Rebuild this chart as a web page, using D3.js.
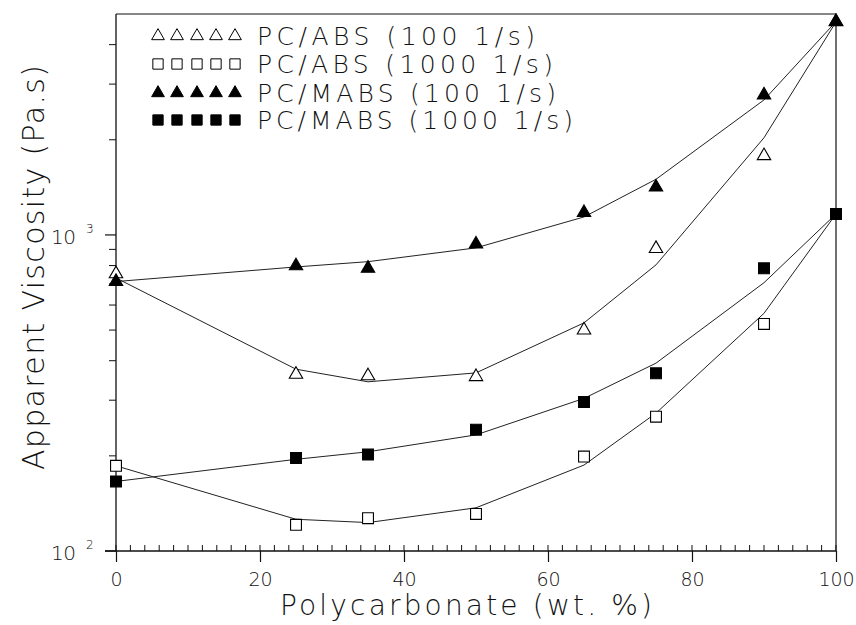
<!DOCTYPE html>
<html><head><meta charset="utf-8">
<script src="https://cdn.jsdelivr.net/npm/d3@7"></script>
<style>
body{margin:0;background:#fff;}
text{font-family:"DejaVu Sans",sans-serif;font-weight:200;fill:#111;}
</style></head>
<body><svg id="chart" width="856" height="625"></svg>
<script>
// ---- data ----
const composition = [0, 25, 35, 50, 65, 75, 90, 100];
const absLowPoints   = [753, 362, 358, 356, 500, 905, 1780, 4720];
const absLowFit      = [731, 376, 343, 366, 527, 804, 2030, 4720];
const absHighPoints  = [186, 121, 127, 131, 199, 266, 523, 1165];
const absHighFit     = [186, 126, 123, 137, 187, 273, 565, 1165];
const mabsLowPoints  = [712, 798, 784, 935, 1176, 1416, 2770, 4730];
const mabsLowFit     = [712, 792, 823, 910, 1140, 1500, 2674, 4730];
const mabsHighPoints = [166, 197, 202, 242, 296, 365, 784, 1165];
const mabsHighFit    = [166, 195, 206, 233, 304, 393, 706, 1165];
const seriesNames = ["PC/ABS (100 1/s)", "PC/ABS (1000 1/s)", "PC/MABS (100 1/s)", "PC/MABS (1000 1/s)"];
const xTicks = [0, 20, 40, 60, 80, 100];
const yDecades = [100, 1000];
const yDecadeExp = ["2", "3"];

const series = [
  {name: seriesNames[0], pts: absLowPoints,  fit: absLowFit,  shape: "tri", filled: false},
  {name: seriesNames[1], pts: absHighPoints, fit: absHighFit, shape: "sq",  filled: false},
  {name: seriesNames[2], pts: mabsLowPoints, fit: mabsLowFit, shape: "tri", filled: true},
  {name: seriesNames[3], pts: mabsHighPoints,fit: mabsHighFit,shape: "sq",  filled: true}
];

const svg = d3.select("#chart");
const L = 116, T = 14, R = 836, B = 551;
const x = d3.scaleLinear().domain([0, 100]).range([L, R]);
const y = d3.scaleLog().domain([100, 5000]).range([B, T]);

const ink = "#111";

// frame
svg.append("line").attr("x1", L).attr("x2", R).attr("y1", T).attr("y2", T).attr("stroke", ink).attr("stroke-width", 1.2);
svg.append("line").attr("x1", R).attr("x2", R).attr("y1", T).attr("y2", B).attr("stroke", ink).attr("stroke-width", 1.2);

// x axis
const xAxis = d3.axisBottom(x).tickValues(xTicks).tickSize(11).tickPadding(6).tickFormat(d3.format("d"));
const gx = svg.append("g").attr("transform", `translate(0,${B})`).call(xAxis);
gx.select(".domain").remove();
gx.selectAll(".tick line").attr("stroke", ink).attr("stroke-width", 1.2);
gx.selectAll(".tick text").attr("font-size", 19).attr("font-family", "DejaVu Sans").attr("font-weight", 200).attr("fill", ink).attr("dy", "0.95em");
svg.append("line").attr("x1", L - 11).attr("x2", R).attr("y1", B).attr("y2", B).attr("stroke", ink).attr("stroke-width", 1.3);
const minorX = d3.range(0, 101, 2);
svg.append("g").selectAll("line").data(minorX).join("line")
  .attr("x1", d => x(d)).attr("x2", d => x(d)).attr("y1", B).attr("y2", B - 6)
  .attr("stroke", ink).attr("stroke-width", 1);

// y axis
svg.append("line").attr("x1", L).attr("x2", L).attr("y1", T).attr("y2", B).attr("stroke", ink).attr("stroke-width", 1.3);
const minorY = [200,300,400,500,600,700,800,900,2000,3000,4000];
svg.append("g").selectAll("line").data(minorY).join("line")
  .attr("x1", L - 7).attr("x2", L).attr("y1", d => y(d)).attr("y2", d => y(d))
  .attr("stroke", ink).attr("stroke-width", 1);
svg.append("g").selectAll("line").data(yDecades).join("line")
  .attr("x1", L - 11).attr("x2", L).attr("y1", d => y(d)).attr("y2", d => y(d))
  .attr("stroke", ink).attr("stroke-width", 1.2);
const yl = svg.append("g").selectAll("text").data(yDecades).join("text")
  .attr("x", 51).attr("y", d => y(d) + 9).attr("font-size", 20);
yl.append("tspan").text("10").attr("textLength", 25);
yl.append("tspan").text((d, i) => yDecadeExp[i]).attr("x", 86).attr("dy", -11).attr("font-size", 12);

// fit lines
const line = d3.line().x((d, i) => x(composition[i])).y(d => y(d));
svg.append("g").selectAll("path").data(series).join("path")
  .attr("d", s => line(s.fit)).attr("fill", "none").attr("stroke", "#222").attr("stroke-width", 1);

// markers
function symPath(shape, scale) {
  return shape === "tri"
    ? d3.symbol(d3.symbolTriangle, 78 * scale)()
    : d3.symbol(d3.symbolSquare, 118 * scale)();
}
series.forEach(s => {
  svg.append("g").selectAll("path").data(s.pts).join("path")
    .attr("transform", (d, i) => `translate(${x(composition[i])},${y(d)})`)
    .attr("d", symPath(s.shape, 1))
    .attr("fill", s.filled ? "#000" : "#fff")
    .attr("stroke", "#000").attr("stroke-width", 1.1);
});

// legend
const legendRowsY = [36, 64, 93, 120];
const legendMarkX = [158, 177, 197, 216, 235];
const legendTextEnd = [535, 553, 556, 573];
series.forEach((s, r) => {
  svg.append("g").selectAll("path").data(legendMarkX).join("path")
    .attr("transform", d => `translate(${d},${legendRowsY[r]})`)
    .attr("d", symPath(s.shape, 0.9))
    .attr("fill", s.filled ? "#000" : "#fff")
    .attr("stroke", "#000").attr("stroke-width", 1);
  svg.append("text").attr("x", 257).attr("y", legendRowsY[r] + 9)
    .attr("font-size", 25).attr("textLength", legendTextEnd[r] - 257).attr("lengthAdjust", "spacing")
    .text(s.name);
});

// axis titles
svg.append("text").attr("x", 280).attr("y", 615).attr("font-size", 28)
  .attr("textLength", 372).attr("lengthAdjust", "spacing")
  .text("Polycarbonate (wt. %)");
svg.append("text").attr("transform", "translate(44,470) rotate(-90)").attr("font-size", 30)
  .attr("textLength", 405).attr("lengthAdjust", "spacing")
  .text("Apparent Viscosity (Pa.s)");
</script></body></html>
